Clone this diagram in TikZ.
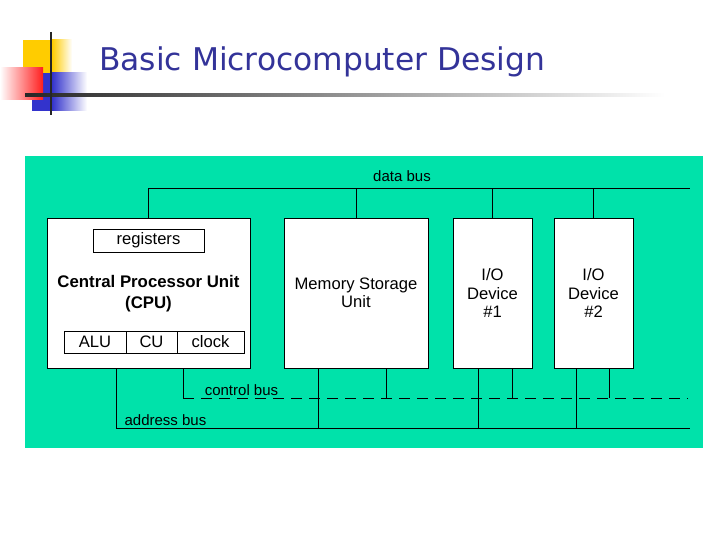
\documentclass[tikz,border=0pt]{standalone}
\usepackage{fontspec}
\setmainfont{Liberation Sans}
\newfontfamily\titlefont{DejaVu Sans}
\definecolor{BusGreen}{RGB}{0, 226, 170}
\definecolor{TitleBlue}{RGB}{51, 51, 153}
\definecolor{LogoYellow}{RGB}{255, 204, 0}
\definecolor{LogoRed}{RGB}{255, 30, 30}
\definecolor{LogoBlue}{RGB}{51, 51, 204}
\usetikzlibrary{positioning}

\begin{document}
\begin{tikzpicture}[x=1pt, y=-1pt,
  unit/.style={draw=black, fill=white, line width=0.9pt, inner sep=0pt, font=\fontsize{16.6}{18.5}\selectfont, align=center},
  part/.style={unit, minimum height=22pt},
  buslbl/.style={font=\fontsize{15}{17}\selectfont, inner sep=0pt},
  bus/.style={line width=0.9pt, black},
  cbus/.style={bus, dash pattern=on 11pt off 7pt}]
\useasboundingbox (0,0) rectangle (720,540);
\fill[white] (0,0) rectangle (720,540);
% logo and rule
\fill[LogoYellow] (23,40) rectangle (52,73); \shade[left color=LogoYellow, right color=white] (52,40) rectangle (72,73);
\fill[LogoBlue] (32,73) rectangle (52,111); \shade[left color=LogoBlue, right color=white] (52,73) rectangle (87,111);
\shade[left color=white, right color=LogoRed] (0,68) rectangle (43,100);
\shade[left color=black!85, right color=white] (25,93.8) rectangle (665,96.2);
\draw[black!85, line width=2pt] (51,32) -- (51,115);
\node[anchor=base west, inner sep=0pt, text=TitleBlue, font=\titlefont\fontsize{31.3}{36}\selectfont] (title) at (99,71) {Basic Microcomputer Design};
% panel
\fill[BusGreen] (25,156) rectangle (703,448);
\node[unit, minimum width=203pt, minimum height=150pt] (cpu) at (148.5,293) {};
\node[unit, minimum width=111pt, minimum height=23pt] (regs) at (148.5,240.5) {registers};
\node[align=center, inner sep=0pt, font=\bfseries\fontsize{16.8}{21}\selectfont] (cpulbl) at (148.5,294) {Central Processor Unit\\(CPU)};
\node[part, minimum width=62pt] (alu) at (95,342) {ALU};
\node[part, minimum width=51pt] (cu) at (151.5,342) {CU};
\node[part, minimum width=67pt] (clock) at (210.5,342) {clock};
\node[unit, minimum width=144pt, minimum height=150pt] (mem) at (356,293) {Memory Storage\\Unit};
\node[unit, minimum width=79pt, minimum height=150pt] (io1) at (492.5,293) {I/O\\Device\\\#1};
\node[unit, minimum width=79pt, minimum height=150pt] (io2) at (593.5,293) {I/O\\Device\\\#2};
% buses
\coordinate (dbR) at (690,188);
\coordinate (cbL) at (183,398); \coordinate (cbR) at (688,398);
\coordinate (abL) at (116,428); \coordinate (abR) at (690,428);
\coordinate (memC) at (386,398); \coordinate (io1C) at (512,398); \coordinate (io2C) at (609,398);
\coordinate (memA) at (318,428); \coordinate (io1A) at (478,428); \coordinate (io2A) at (576,428);
\draw[bus] (cpu.north) |- (dbR);
\draw[bus] (mem.north) -- (mem.north |- dbR); \draw[bus] (io1.north) -- (io1.north |- dbR); \draw[bus] (io2.north) -- (io2.north |- dbR);
\draw[bus] (abL |- cpu.south) -- (abL) -- (abR);
\draw[bus] (cbL |- cpu.south) -- (cbL); \draw[cbus] (cbL) -- (cbR);
\draw[bus] (memA |- mem.south) -- (memA); \draw[bus] (io1A |- io1.south) -- (io1A); \draw[bus] (io2A |- io2.south) -- (io2A);
\draw[bus] (memC |- mem.south) -- (memC); \draw[bus] (io1C |- io1.south) -- (io1C); \draw[bus] (io2C |- io2.south) -- (io2C);
\node[buslbl] (dblbl) at (402,176) {data bus};
\node[buslbl] (cblbl) at (241.5,390) {control bus};
\node[buslbl] (ablbl) at (165.5,420) {address bus};
\end{tikzpicture}
\end{document}
